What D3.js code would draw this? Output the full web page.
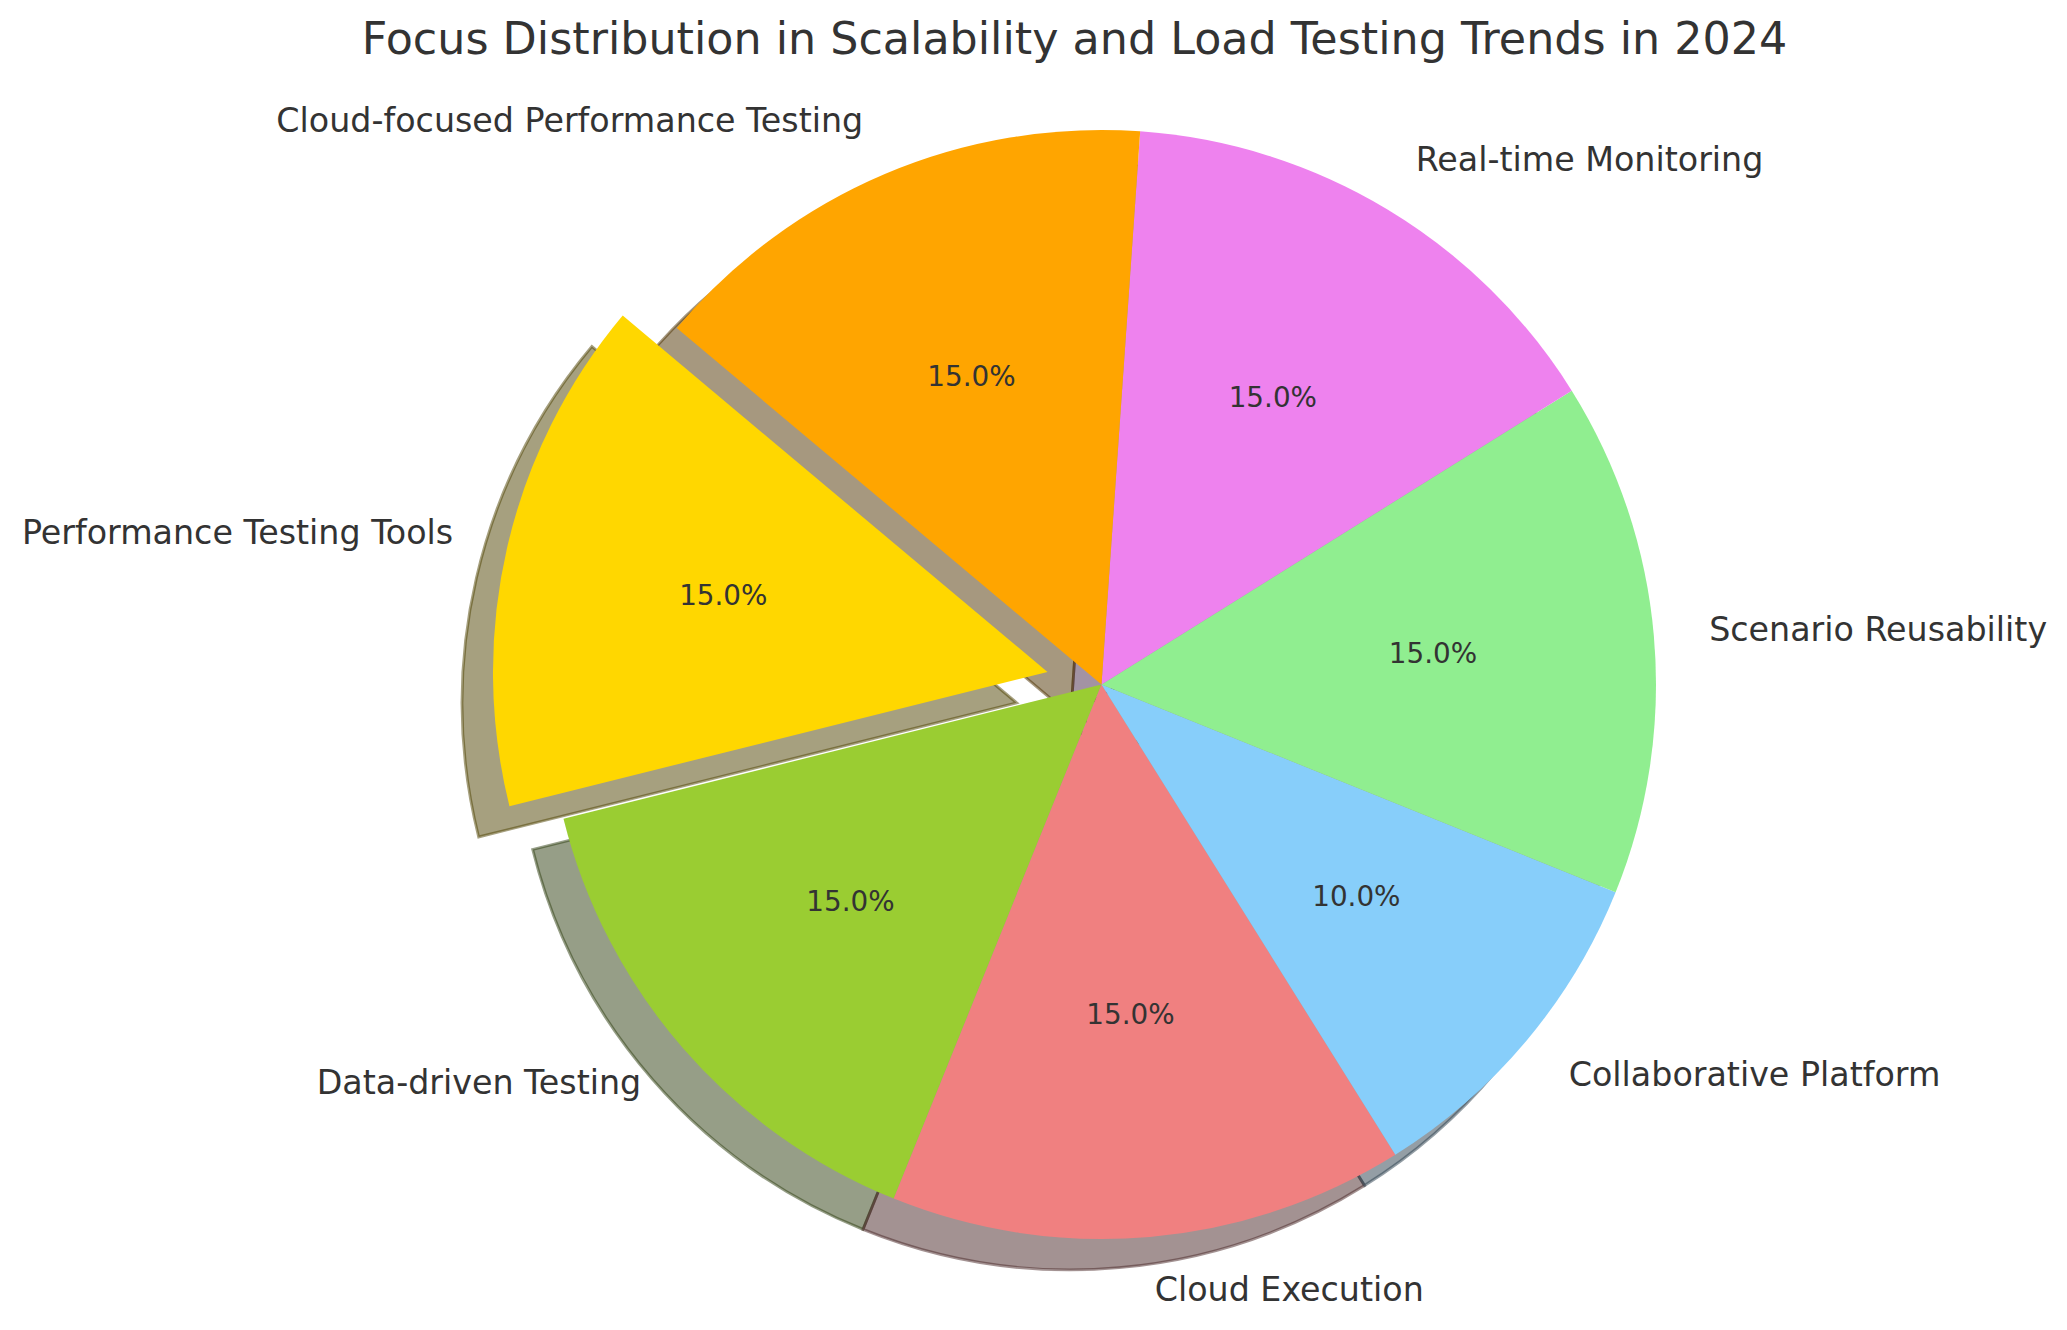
<!DOCTYPE html>
<html>
<head>
<meta charset="utf-8">
<script src="https://cdn.jsdelivr.net/npm/d3@7"></script>
<style>
    body { margin: 0; background: #fff; }
    text { font-family: "DejaVu Sans", sans-serif; fill: #333333; }
</style>
</head>
<body>
<svg id="draw" width="2067" height="1330"></svg>
<script>
var categories = ["Performance Testing Tools", "Data-driven Testing", "Cloud Execution",
    "Collaborative Platform", "Scenario Reusability", "Real-time Monitoring",
    "Cloud-focused Performance Testing"];
var values = [15, 15, 15, 10, 15, 15, 15];
var colors = ["#FFD700", "#9ACD32", "#F08080", "#87CEFA", "#90EE90", "#EE82EE", "#FFA500"];
var explode = [0.1, 0, 0, 0, 0, 0, 0];
var title = "Focus Distribution in Scalability and Load Testing Trends in 2024";

// ============================================================================

var w = 2067;
var h = 1330;
var cx = 1101.5;
var cy = 684.5;
var r = 554.5;
var startangle = 140;   // degrees, counter-clockwise from 3 o'clock like matplotlib
var shadowOff = 30.8;

var svg = d3.select("#draw");

var rad = (deg) => deg * Math.PI / 180;

// d3 angles start at 12 o'clock and go clockwise, so run the pie backwards
var pie = d3.pie()
    .sort(null)
    .value((d) => d.value)
    .startAngle(rad(90 - startangle))
    .endAngle(rad(90 - startangle - 360));

var rows = categories.map((c, i) => ({ name: c, value: values[i], color: colors[i], explode: explode[i] }));
var arcs = pie(rows);

var radius = d3.scaleLinear().domain([0, 1]).range([0, r]);
var arc = d3.arc().innerRadius(0).outerRadius(radius(1));

function mid(d) { return (d.startAngle + d.endAngle) / 2; }
function offset(d, f) {
    var a = mid(d);
    return [Math.sin(a) * radius(f), -Math.cos(a) * radius(f)];
}

function shade(c) {
    var col = d3.rgb(c);
    return d3.rgb(col.r * 0.3, col.g * 0.3, col.b * 0.3).toString();
}

// ---------------------------------------------------------------------------

var g = svg.append("g").attr("transform", "translate(" + cx + "," + cy + ")");

// shadows go under every wedge
g.selectAll("path.shadow")
    .data(arcs)
    .enter()
    .append("path")
    .attr("class", "shadow")
    .attr("d", arc)
    .attr("transform", (d) => {
        var o = offset(d, d.data.explode);
        return "translate(" + (o[0] - shadowOff) + "," + (o[1] + shadowOff) + ")";
    })
    .attr("fill", (d) => shade(d.data.color))
    .attr("fill-opacity", 0.5)
    .attr("stroke", (d) => shade(d.data.color))
    .attr("stroke-opacity", 0.5)
    .attr("stroke-width", 2.8);

g.selectAll("path.wedge")
    .data(arcs)
    .enter()
    .append("path")
    .attr("class", "wedge")
    .attr("d", arc)
    .attr("transform", (d) => {
        var o = offset(d, d.data.explode);
        return "translate(" + o[0] + "," + o[1] + ")";
    })
    .attr("fill", (d) => d.data.color);

// category labels at 1.1 r
g.selectAll("text.label")
    .data(arcs)
    .enter()
    .append("text")
    .attr("class", "label")
    .attr("x", (d) => offset(d, d.data.explode)[0] + offset(d, 1.1)[0])
    .attr("y", (d) => offset(d, d.data.explode)[1] + offset(d, 1.1)[1])
    .attr("dy", "0.28em")
    .attr("text-anchor", (d) => offset(d, 1)[0] > 0 ? "start" : "end")
    .style("font-size", "33.3px")
    .text((d) => d.data.name);

// percentages at 0.6 r
var total = d3.sum(values);
g.selectAll("text.pct")
    .data(arcs)
    .enter()
    .append("text")
    .attr("class", "pct")
    .attr("x", (d) => offset(d, d.data.explode)[0] + offset(d, 0.6)[0])
    .attr("y", (d) => offset(d, d.data.explode)[1] + offset(d, 0.6)[1])
    .attr("dy", "0.28em")
    .attr("text-anchor", "middle")
    .style("font-size", "27.8px")
    .text((d) => (100 * d.data.value / total).toFixed(1) + "%");

svg.append("text")
    .attr("x", 1074.5)
    .attr("y", 54)
    .attr("text-anchor", "middle")
    .style("font-size", "44.4px")
    .text(title);
</script>
</body>
</html>
